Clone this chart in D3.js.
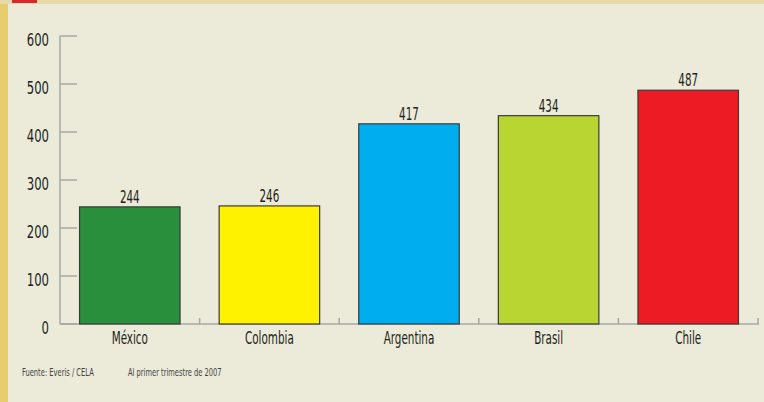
<!DOCTYPE html>
<html>
<head>
<meta charset="utf-8">
<script src="https://cdn.jsdelivr.net/npm/d3@7"></script>
<style>
  body { margin: 0; background: #ecead9; }
  text { font-family: 'DejaVu Sans Condensed', 'Liberation Sans Narrow', sans-serif; fill: #231f20; }
</style>
</head>
<body>
<div id="main"></div>
<script>
// data
const paises = ['México', 'Colombia', 'Argentina', 'Brasil', 'Chile'];
const valores = [244, 246, 417, 434, 487];
const colores = ['#2a8f3c', '#fff200', '#00aeef', '#b9d531', '#ed1c24'];
const yTicks = [0, 100, 200, 300, 400, 500, 600];

const width = 764, height = 402;

let svg = d3.select('#main')
    .append('svg')
        .attr('width', width)
        .attr('height', height);

// background, left strip and top band
svg.append('rect').attr('width', width).attr('height', height).style('fill', '#ecead9');
svg.append('rect').attr('width', 8).attr('height', height).style('fill', '#e6ce6e');
svg.append('rect').attr('width', width).attr('height', 4).style('fill', '#e8d9a8');
svg.append('rect').attr('x', 12).attr('width', 25).attr('height', 3).style('fill', '#d7262e');

const x = d3.scaleBand().domain(paises).range([60, 758]).paddingInner(0.28).paddingOuter(0.14);
const y = d3.scaleLinear().domain([0, 600]).range([324, 36]);

const grey = '#a7a7a7';

// the original font is a narrow condensed face, so squeeze the text horizontally
const squeeze = (sel, fx, fy, sx) => sel.attr('transform', (d, i) => `translate(${fx(d, i)},${fy(d, i)}) scale(${sx},1)`);

// y axis line and tick stubs
svg.append('line')
    .attr('x1', 60).attr('x2', 60)
    .attr('y1', y(600)).attr('y2', y(0))
    .style('stroke', grey).style('stroke-width', 1.5);

svg.selectAll('.ystub')
    .data(yTicks)
    .enter()
    .append('line')
        .attr('x1', 60).attr('x2', 77)
        .attr('y1', d => y(d)).attr('y2', d => y(d))
        .style('stroke', grey).style('stroke-width', 1.5);

svg.selectAll('.ylab')
    .data(yTicks)
    .enter()
    .append('text')
        .attr('text-anchor', 'end')
        .style('font-size', '18px')
        .text(d => d)
        .call(squeeze, () => 49, d => y(d) + 10, 0.72);

// x baseline and category ticks
svg.append('line')
    .attr('x1', 60).attr('x2', 759)
    .attr('y1', y(0)).attr('y2', y(0))
    .style('stroke', grey).style('stroke-width', 1.5);

svg.selectAll('.xtick')
    .data(paises)
    .enter()
    .append('line')
        .attr('x1', d => x(d) + x.bandwidth() + x.step() * x.paddingInner() / 2)
        .attr('x2', d => x(d) + x.bandwidth() + x.step() * x.paddingInner() / 2)
        .attr('y1', y(0) - 6).attr('y2', y(0))
        .style('stroke', grey).style('stroke-width', 1.5);

// bars
svg.selectAll('.bar')
    .data(paises)
    .enter()
    .append('rect')
        .attr('x', d => x(d))
        .attr('width', x.bandwidth())
        .attr('y', (d, i) => y(valores[i]))
        .attr('height', (d, i) => y(0) - y(valores[i]))
        .style('fill', (d, i) => colores[i])
        .style('stroke', '#3a3a3a')
        .style('stroke-width', 1.2);

// value labels
svg.selectAll('.val')
    .data(paises)
    .enter()
    .append('text')
        .attr('text-anchor', 'middle')
        .style('font-size', '18px')
        .text((d, i) => valores[i])
        .call(squeeze, d => x(d) + x.bandwidth() / 2, (d, i) => y(valores[i]) - 4, 0.64);

// category labels
svg.selectAll('.cat')
    .data(paises)
    .enter()
    .append('text')
        .attr('text-anchor', 'middle')
        .style('font-size', '17px')
        .text(d => d)
        .call(squeeze, d => x(d) + x.bandwidth() / 2, () => 344, 0.68);

// footer
const notas = ['Fuente: Everis / CELA', 'Al primer trimestre de 2007'];
const notasX = [22, 128];
svg.selectAll('.nota')
    .data(notas)
    .enter()
    .append('text')
        .style('font-size', '11px')
        .style('fill', '#444')
        .text(d => d)
        .call(squeeze, (d, i) => notasX[i], () => 376, 0.68);
</script>
</body>
</html>
